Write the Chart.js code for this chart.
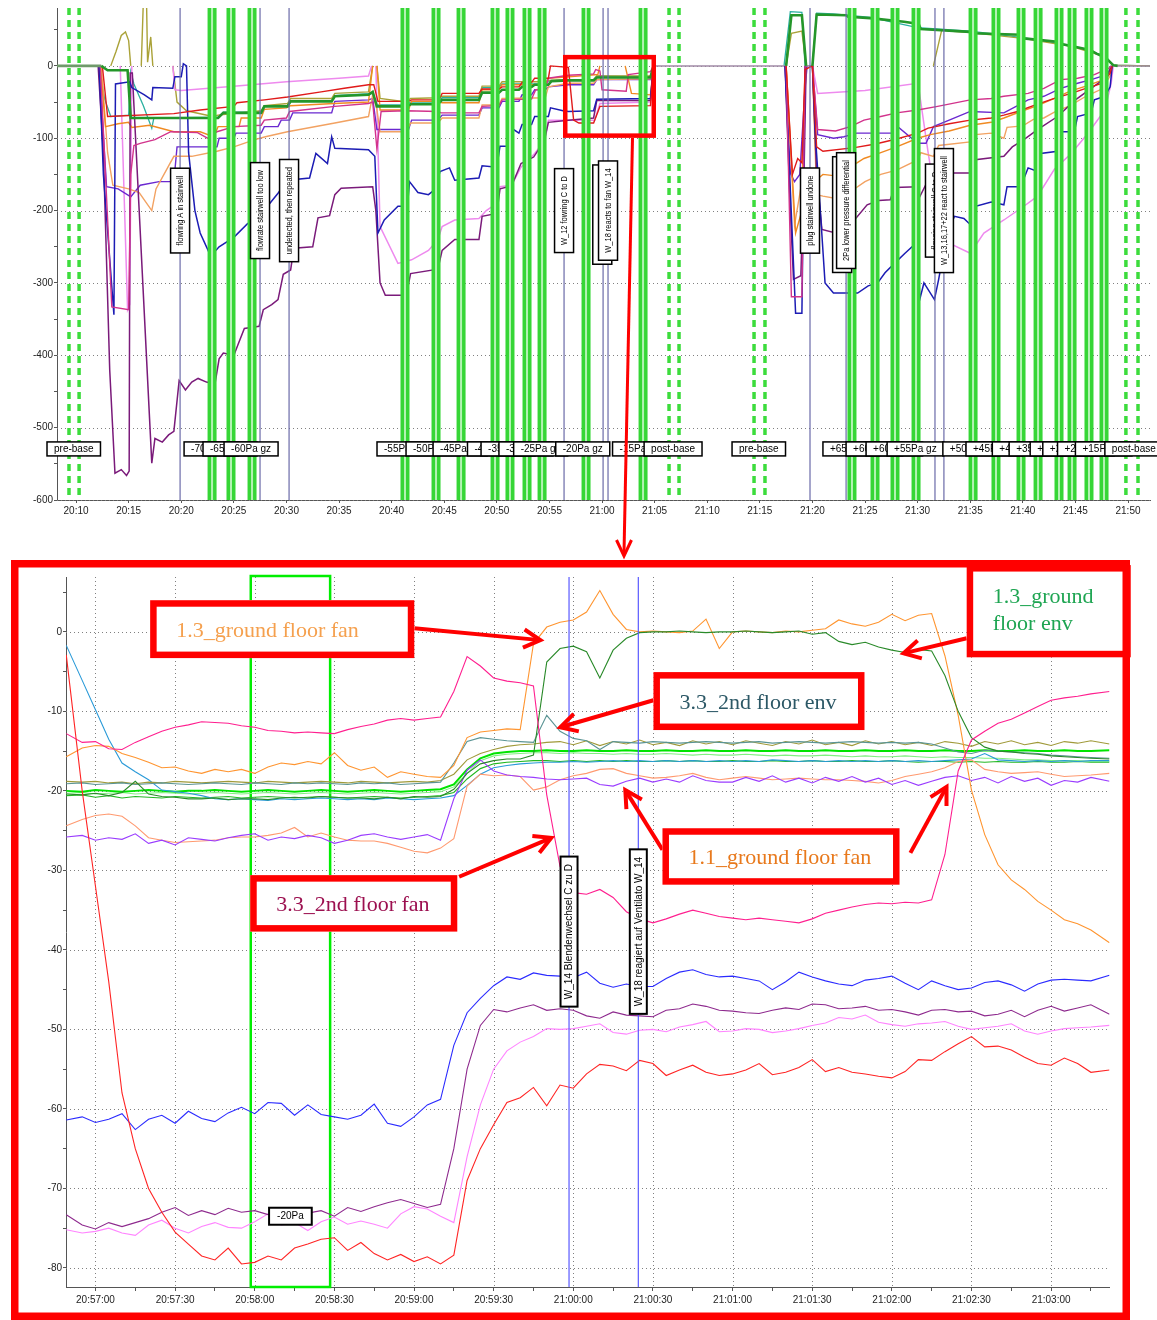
<!DOCTYPE html>
<html>
<head>
<meta charset="utf-8">
<title>Pressure test overview and zoom 20:57-21:03</title>
<script src="https://cdn.jsdelivr.net/npm/chart.js@4.4.1/dist/chart.umd.min.js"></script>
<style>
  body { margin: 0; background: #fff; }
  #wrap { position: relative; width: 1157px; height: 1320px; overflow: hidden; }
  #top { position: absolute; left: 0; top: 0; }
  #zoom { position: absolute; left: 0; top: 560px; }
  #link { position: absolute; left: 0; top: 0; pointer-events: none; }
</style>
</head>
<body>
<div id="wrap">
  <canvas id="top" width="1157" height="530"></canvas>
  <canvas id="zoom" width="1157" height="760"></canvas>
  <svg id="link" width="1157" height="1320">
    <line x1="632.5" y1="138" x2="624" y2="553" stroke="#ff0000" stroke-width="3"/>
    <polyline points="616.5,540 624,556 631.5,540" fill="none" stroke="#ff0000" stroke-width="3"/>
  </svg>
</div>
<script>
// ===== overview chart: x = minutes after 20:00, y = Pa =====
const topBars = [22.93, 24.73, 26.73, 41.27, 44.22, 46.6, 49.83, 51.25, 52.87, 54.3, 58.48, 63.9,
  83.76, 85.95, 87.85, 89.85, 95.27, 97.45, 99.83, 101.45, 103.44, 104.68, 106.29, 107.72];
const topBase = [9.33, 10.29, 66.37, 67.32, 74.45, 75.49, 109.8, 110.95];
const topEvents = [19.89, 27.49, 30.25, 56.39, 60.1, 60.57, 79.77, 83.2, 91.65, 92.5];
const topNoteT = [19.89, 27.49, 30.25, 56.39, 60.1, 60.57, 79.77, 82.9, 83.2, 91.65, 92.5];
const topNoteText = ['flowring A in stairwell', 'flowrate stairwell too low', 'undetected, then repeated',
  'W_12 fowring C to D', 'W_18 reacts to fan W_14', 'W_18 reacts to fan W_14', 'plug stairwell undone',
  '2Pa lower pressure differential', '2Pa lower pressure differential', 'flowring stairwell C to D',
  'W_13,16,17+22 react to stairwell'];
const topStepT = [7.24, 20.27, 22.07, 24.07, 38.61, 41.37, 43.94, 47.21, 48.5, 50.2, 51.6, 55.6, 61.0, 64.0,
  72.36, 81.0, 83.2, 85.1, 87.1, 92.4, 94.6, 97.1, 98.7, 100.7, 101.9, 103.3, 105.0, 107.8];
const topStepText = ['pre-base', '-70Pa gz', '-65Pa gz', '-60Pa gz', '-55Pa gz', '-50Pa gz', '-45Pa gz', '-40Pa gz',
  '-35Pa gz', '-30Pa gz', '-25Pa gz', '-20Pa gz', '-15Pa gz', 'post-base', 'pre-base', '+65Pa gz', '+60Pa gz',
  '+60Pa gz', '+55Pa gz', '+50Pa gz', '+45Pa gz', '+40Pa gz', '+35Pa gz', '+30Pa gz', '+25Pa gz', '+20Pa gz',
  '+15Pa gz', 'post-base'];

const tGreen = [[8.2,0],[12.4,0],[13,-6],[14.9,-6],[15.2,-72],[23.5,-72],[24,-65],[27.6,-65],[27.9,-56],[30.1,-56],[30.4,-49],
  [34.3,-49],[34.6,-42],[37.8,-40],[38.2,-36],[38.6,-56],[41.4,-56],[41.8,-53],[44.4,-53],[44.8,-47],[48.3,-47],[48.6,-37],
  [50.2,-37],[50.5,-33],[52.1,-33],[52.4,-29],[53.3,-29],[53.6,-26],[54.9,-26],[55.2,-21],[56.8,-20],[59.2,-20],[59.5,-16],
  [64.6,-16],[64.9,0],[77.5,0],[78,70],[79,70],
  [79.4,0],[80,0],[80.4,71],[83.2,70],[83.4,68],[85.5,66],[88.7,61],[90.1,58],[90.3,51],[95,47],[95.3,45],[99.8,43],[100.1,38],
  [103.5,33],[103.8,30],[106.4,22],[107,17],[107.8,12],[108.6,1],[109,0],[112.1,0]];
const tRed = [[8.2,0],[12.5,0],[13,-70],[19.3,-66],[21.8,-61],[25,-56],[25.3,-51],[27.9,-47],[30.1,-43],[33.3,-36],[35.5,-31],
  [37.8,-26],[38.3,-26],[38.7,-49],[41.6,-49],[41.9,-47],[44.5,-47],[44.8,-38],[48.3,-38],[48.6,-32],[50.2,-32],[50.5,-29],
  [52.1,-29],[52.4,-23],[53.3,-23],[53.6,-17],[54.9,-17],[55.1,0],[56.8,-2],[57.3,-75],[57.8,-79],[59.2,-79],[59.8,-56],
  [64.6,-55],[64.9,0],[77.5,0],[78.1,-150],[78.6,-128],
  [79,-134],[79.3,-5],[80,0],[80.4,-112],[81,-118],[84,-113],[86,-108],[88,-101],[90,-93],[91,-86],[93,-80],[95,-75],[97,-72],
  [98.2,-68],[99.5,-63],[101,-55],[103,-45],[104.6,-38],[106.2,-30],[107.6,-24],[108.3,-10],[108.5,0],[112.1,0]];
const tMagenta = [[8.2,0],[12.3,0],[13.4,-333],[15,-337],[15.2,-150],[15.5,-110],[16.1,-107],[17.5,-102],[19,-91],[21.5,-92],
  [22.5,-100],[23.4,-91],[25,-84],[27.6,-82],[27.9,-75],[30,-72],[30.3,-63],[34.6,-56],[37.8,-52],[38.2,-50],[38.6,-115],
  [39,-63],[41.4,-62],[44.4,-63],[44.7,-65],[48.3,-65],[48.6,-56],[50.2,-55],[50.5,-47],[53.3,-46],[53.7,-33],[54.6,-32],
  [54.9,-17],[56.8,-13],[59.2,-11],[59.4,-5],[59.8,-7],[60,-33],[62.3,-35],[62.5,-12],[64.6,-8],[64.9,0],[77.5,0],[78,-319],
  [79,-319],[79.3,0],[80,0],[80.5,-88],[82.2,-90],[83.6,-84],[84.9,-75],[86.5,-70],[88,-65],[90,-61],[91.9,-56],[95,-47],
  [97,-45],[98.2,-42],[100.5,-38],[102,-31],[103.6,-19],[105.2,-17],[106.8,-12],[108.2,-3],[108.4,0],[112.1,0]];
const tBlue = [[8.2,0],[12.2,0],[12.6,-150],[13.6,-344],[13.75,-25],[15.1,-22],[15.3,-30],[16.5,-40],[17.2,-47],[17.3,-30],
  [19.2,-31],[19.4,-15],[20,-15],[20.2,3],[20.5,0],[20.7,-120],[21.3,-200],[21.8,-231],[22.8,-263],[23.6,-250],[25,-237],
  [26.3,-218],[27.2,-212],[28.2,-194],[29.2,-176],[30.1,-158],[32.2,-155],[32.8,-121],[33.9,-135],[34.3,-98],[34.6,-114],
  [37.8,-116],[38.4,-125],[38.7,-231],[39.3,-213],[40.6,-194],[41.5,-194],[41.7,-160],[42.5,-175],[43.5,-178],[44.1,-171],
  [44.6,-146],[45.5,-141],[46,-158],[48.3,-155],[48.6,-138],[50,-140],[50.3,-111],[51.3,-111],[51.6,-88],[52.1,-93],[52.4,-81],
  [53.3,-81],[53.6,-70],[54.9,-70],[55.1,-58],[56.3,-62],[56.8,-63],[59.2,-62],[59.5,-46],[64.6,-45],[64.9,0],
  [77.4,0],[78.4,-342],[79,-342],[79.3,0],[80,0],[80.3,-100],[81.2,-300],[82,-314],[84.3,-314],[85.3,-304],[86.2,-300],
  [86.9,-286],[87.8,-273],[88.8,-259],[90,-243],[90.2,-323],[90.6,-300],[91.6,-323],[92,-295],[92.8,-231],[93.5,-208],
  [94.4,-211],[95.2,-222],[95.5,-194],[97,-188],[98.2,-192],[98.5,-167],[99.8,-167],[100.5,-141],[101.4,-146],[101.7,-121],
  [103.3,-118],[103.6,-91],[104.9,-91],[105.2,-70],[106.5,-65],[106.8,-47],[107.8,-42],[108.3,-29],[108.5,0],[112.1,0]];
const tPurple = [[8.2,0],[12.1,0],[12.6,-120],[13.2,-420],[13.7,-563],[14.3,-558],[14.8,-566],[15.05,-560],[15.15,-10],
  [15.35,-10],[17.2,-549],[17.5,-515],[18.2,-520],[18.8,-510],[19.3,-505],[19.8,-435],[20.4,-448],[21,-437],[21.6,-432],
  [22.4,-437],[23.2,-440],[23.6,-405],[24,-397],[25,-400],[25.4,-385],[26,-363],[27.4,-360],[27.8,-337],[28.6,-330],
  [29.2,-323],[29.7,-288],[30.4,-282],[30.7,-252],[32.5,-250],[33,-210],[34.1,-207],[34.6,-178],[35.2,-169],[38.2,-167],
  [38.5,-200],[38.9,-300],[39.4,-317],[41.4,-317],[41.8,-287],[44.4,-281],[44.8,-255],[46,-240],[48.3,-240],[48.6,-208],
  [50,-204],[50.3,-170],[51.4,-166],[52.3,-135],[53.5,-126],[54.5,-104],[54.9,-78],[56.8,-75],[59.2,-72],[59.5,-48],
  [64.6,-48],[64.9,0],[77.4,0],[77.9,-200],[78.2,-295],[78.9,-290],[79.2,-150],[79.4,0],[80,0],[80.4,-150],[80.9,-226],
  [82.2,-231],[83,-220],[84,-213],[85.2,-192],[86.3,-186],[87.4,-185],[87.8,-168],[90,-167],[90.2,-181],[91.2,-152],
  [93.5,-148],[95,-148],[95.3,-130],[98.2,-125],[99,-112],[100.1,-102],[101.4,-88],[103.3,-70],[105,-47],[106.5,-31],
  [108,-15],[108.4,0],[112.1,0]];
const tOrange = [[8.2,0],[12.3,0],[12.8,-84],[14,-80],[15,-78],[15.3,-85],[17,-82],[19.3,-91],[21.8,-91],[23.1,-98],[23.5,-84],
  [25.5,-84],[25.7,-72],[27.6,-72],[27.9,-60],[30,-58],[30.4,-55],[34.5,-52],[37.8,-50],[38.2,0],[38.6,0],[38.9,-61],[41.6,-61],
  [41.9,-49],[44.4,-49],[44.8,-51],[48.3,-51],[48.6,-33],[50.2,-33],[50.5,-26],[54.6,-26],[54.9,-17],[56.8,-15],[59.6,-12],
  [59.8,0],[62.2,0],[62.8,-38],[64.6,-40],[64.9,0],[77.5,0],[78.4,-231],[79,-200],[79.3,0],[80,0],[80.4,-150],[80.6,-155],
  [81,-150],[82.2,-152],[83.6,-140],[84.9,-128],[86.5,-120],[88,-112],[90,-100],[91.2,-95],[93,-90],[95,-82],[96,-80],
  [97,-78],[98.2,-72],[100,-62],[101.4,-55],[103,-45],[104.5,-35],[106,-28],[107.5,-20],[108.3,-8],[108.5,0],[112.1,0]];
const tSalmon = [[8.2,0],[12.4,0],[13,-120],[13.5,-165],[15,-170],[16,-175],[17.2,-200],[17.6,-170],[19.3,-125],[21,-125],
  [23.4,-118],[25,-112],[27,-102],[28,-98],[30.1,-91],[34.6,-79],[37.8,-70],[38.2,-40],[38.6,-60],[38.9,-91],[41.4,-91],
  [41.8,-79],[44.4,-79],[44.8,-72],[48.3,-72],[48.6,-54],[50.2,-54],[50.5,-45],[54.6,-44],[54.9,-29],[56.8,-24],[59.2,-24],
  [59.5,-19],[64.6,-18],[64.9,0],[77.5,0],[78.3,-220],[79,-160],[79.4,0],[80,0],[80.4,-178],[81,-180],[82.5,-184],
  [83.5,-175],[85,-160],[86.5,-150],[88,-144],[90,-130],[90.3,-120],[91.5,-125],[92,-110],[95,-105],[95.5,-95],[97,-93],
  [98.2,-100],[98.5,-85],[100,-83],[101,-74],[102,-72],[103,-64],[104.5,-55],[106,-42],[107.5,-32],[108.3,-14],[108.5,0],[112.1,0]];
const tViolet = [[8.2,0],[12.2,0],[12.9,-167],[14,-170],[15.2,-181],[16.1,-165],[17.9,-160],[19.3,-160],[19.6,-112],[23.4,-112],
  [23.6,-100],[25,-100],[25.2,-93],[27.6,-93],[27.9,-84],[29.2,-84],[29.5,-75],[30.3,-75],[30.6,-65],[34.3,-65],[34.6,-49],
  [37.8,-47],[38.2,-45],[38.6,-88],[41.6,-88],[41.9,-75],[44.4,-75],[44.8,-68],[48.3,-68],[48.6,-58],[50.2,-58],[50.5,-49],
  [52.1,-49],[52.4,-40],[53.3,-40],[53.6,-33],[54.6,-33],[54.9,-29],[56.8,-26],[59.2,-26],[59.5,-19],[64.6,-19],[64.9,0],[77.4,0],[77.9,-148],
  [78.3,-160],[78.8,-150],[79.3,-30],[79.5,0],[80,0],[80.5,-95],[82,-100],[83,-98],[84.2,-93],[88,-93],[88.2,-85],[90,-107],
  [90.8,-107],[91.5,-84],[93,-75],[95,-63],[98.2,-65],[99.5,-55],[100.5,-47],[102,-42],[103.6,-31],[105.2,-24],[106.5,-19],
  [108,-12],[108.5,0],[112.1,0]];
const tPink = [[8.2,0],[14.2,0],[14.9,-337],[15.1,-330],[15.3,0],[19.2,0],[19.4,-33],[20,-34],[25,-28],[30,-22],[35,-17],
  [37.8,-14],[38.1,0],[38.5,0],[38.9,-222],[40.6,-273],[41.9,-268],[43.5,-255],[44.4,-240],[44.8,-222],[46,-213],[48.3,-211],
  [49,-200],[50,-190],[50.3,-167],[51.4,-165],[52.3,-140],[53.6,-121],[54.6,-102],[54.9,-75],[56.8,-75],[59.3,-75],[59.8,-52],
  [64.6,-50],[64.9,0],[80,0],[80.5,-38],[85,-34],[90,-24],[90.1,-30],[91,-120],[92.2,-230],[93,-245],[95,-259],[96.3,-231],
  [98.2,-213],[100.1,-194],[101.4,-180],[103,-143],[104.6,-121],[106.2,-93],[107.8,-61],[108.4,-24],[108.6,0],[112.1,0]];
const tOlive = [[8.2,0],[13.3,0],[13.8,20],[14.3,42],[14.7,47],[15,35],[15.2,0],[16.2,0],[16.4,90],[16.7,90],[16.8,5],
  [17.1,40],[17.3,0],[19.2,0],[19.6,-50],[20.5,-62],[23,-70],[23.5,-68],[27.6,-62],[27.9,-55],[30.1,-52],[30.4,-45],
  [34.3,-45],[34.6,-38],[37.8,-36],[38.2,0],[38.6,0],[38.9,-45],[41.4,-50],[41.8,-45],[44.4,-44],[44.8,-42],[48.3,-42],
  [48.6,-28],[50.2,-28],[50.5,-22],[54.6,-22],[54.9,-20],[56.8,-19],[59.2,-19],[59.5,-14],[64.6,-14],[64.9,0],[77.5,0],
  [78,45],[79,48],[79.4,0],[91.5,0],[92.3,50],[93,48],[95,46],[100,38],[104.6,27],[107.8,13],[108.6,1],[112.1,0]];
const tTeal = [[8.2,0],[12.2,0],[12.7,-45],[13.3,-70],[15,-68],[15.2,-8],[15.5,-25],[16.4,-55],[17.2,-86],[17.4,-72],
  [23.5,-71],[24,-64],[27.6,-64],[27.9,-55],[30.1,-55],[30.4,-48],[34.3,-48],[34.6,-41],[38.2,-38],[38.6,-54],[41.4,-54],
  [41.8,-50],[44.4,-50],[44.8,-44],[48.3,-44],[48.6,-30],[50.2,-30],[50.5,-25],[54.6,-25],[54.9,-21],[56.8,-19],[59.2,-19],
  [59.5,-14],[64.6,-15],[64.9,0],[77.3,0],[77.9,75],[79,74],[79.3,0],[80,0],[80.4,73],[82,72],[85.5,67],[90,53],[95,48],
  [100,39],[104.6,28],[107.8,14],[108.6,1],[112.1,0]];

// ===== zoom chart: x = seconds after 20:57:00, y = Pa =====
const zoomT = [-11,-5,0,5,10,15,20,25,30,35,40,45,50,55,60,65,70,75,80,85,90,95,100,105,110,115,120,125,130,135,
  140,145,150,155,160,165,170,175,180,185,190,195,200,205,210,215,220,225,230,235,240,245,250,255,260,265,270,275,
  280,285,290,295,300,305,310,315,320,325,330,335,340,345,350,355,360,365,370,375,382];
const zoomEvents = [178.4, 204.5];
const zoomNoteText = ['W_14 Blendenwechsel C zu D', 'W_18 reagiert auf Ventilato W_14'];
const zoomBand = [58.5, 88.4];
const zoomStepT = [65.4];
const zoomStepText = ['-20Pa'];

const bRed = [-2.9,-20,-32,-44,-58,-65,-70,-73,-75.5,-77,
  -78.5,-79,-77.5,-79.5,-79.3,-78.5,-79,-77.5,-77,-76.4,
  -76.2,-77.8,-76.8,-78.2,-79,-78.3,-79.2,-78.6,-79.5,-78.4,
  -69,-65,-62,-59.2,-58.6,-57.3,-59.6,-57,-57.4,-55.6,
  -54.4,-54.6,-55.2,-53.9,-54.3,-55.8,-55.1,-54.5,-55.4,-55.8,
  -55.6,-55.1,-54.3,-55.7,-55.4,-54.8,-53.8,-55.3,-54.8,-55.4,
  -55.6,-55.9,-56.1,-55.3,-53.8,-53.9,-52.8,-51.8,-50.9,-52.2,
  -52.1,-52.6,-53.5,-54.3,-54.5,-53.6,-54.3,-55.4,-55.1];
const bBlue = [-61.4,-61,-61.7,-61.3,-60.6,-62.6,-61.3,-60.8,-61.8,-60.3,
  -61.2,-61.6,-60.5,-59.8,-60.6,-59.2,-59.3,-60.8,-59.5,-60.7,
  -61,-61.3,-60.8,-59.4,-61.8,-62.2,-61,-59.5,-58.8,-52,
  -47.9,-46.1,-44.5,-43.4,-43.7,-42.9,-43.2,-43.3,-43.5,-42.8,
  -44.2,-44.7,-44.3,-44.6,-44.6,-43.6,-42.8,-42.5,-43.1,-43.4,
  -43.3,-43.6,-43.9,-45,-44,-42.8,-43.4,-43.9,-44.3,-44.5,
  -43.8,-43.6,-43.3,-44.2,-45,-43.9,-44.5,-45,-44.8,-44.1,
  -43.9,-44.4,-45.2,-44.3,-43.8,-43.7,-43.8,-43.9,-43.2];
const bPurple = [-73.3,-74.6,-75.1,-74.3,-74.8,-74.3,-73.8,-73,-72.4,-73.4,
  -72.8,-73.3,-72.5,-73,-72.8,-73.3,-72.7,-72.5,-73.1,-72.8,
  -73.5,-72.4,-72.9,-72.3,-71.8,-71.4,-71.9,-72.4,-72,-65,
  -55,-49.5,-47.5,-47.8,-47.3,-46.9,-47.6,-47.4,-47.6,-48.3,
  -48.6,-47.8,-48.2,-48.3,-48.4,-47.6,-47.4,-46.8,-47.1,-47.6,
  -47.7,-47.9,-48,-47.6,-47.3,-47.5,-46.8,-46.9,-47.4,-47.3,
  -47.1,-47.6,-47.5,-47.8,-48.2,-47.6,-47.5,-47.8,-47.7,-48.3,
  -48.1,-47.6,-48.4,-47.6,-47.1,-47.7,-47.3,-46.9,-48.1];
const bPink = [-75.2,-75.6,-75.4,-75,-75.6,-75.9,-74.6,-74,-75,-75.6,
  -74.8,-74.3,-74.9,-75,-74.2,-73.2,-74.6,-74.3,-75.3,-74.2,
  -73.6,-74.5,-74.1,-74.5,-75,-73.2,-72.3,-72.6,-73.5,-74.3,
  -66,-59.5,-55,-52.7,-51.6,-50.9,-49.9,-50,-49.9,-49.6,
  -49.3,-50.4,-50.6,-50.1,-50,-50.3,-49.7,-49.4,-49,-50.3,
  -50.2,-49.9,-50,-50.4,-50.2,-49.9,-49.5,-49.2,-48.5,-48.7,
  -48.2,-49.1,-49.4,-49.6,-49.3,-49.2,-49,-49.6,-50,-49.8,
  -49.6,-49.3,-50.2,-50.6,-50.2,-49.9,-49.8,-49.7,-49.5];
const bMagenta = [-12.8,-13.9,-13.8,-14.7,-14.8,-13.9,-13.2,-12.5,-12,-11.7,
  -11.3,-11.4,-11.5,-11.8,-12,-12.4,-12.5,-12.7,-12.6,-12.7,
  -12.8,-12.3,-11.9,-11.6,-11.1,-10.9,-11.1,-10.9,-10.7,-7.5,
  -3.1,-4.3,-5.8,-6.2,-6.4,-6.8,-20.5,-29.5,-32.8,-33,
  -32.4,-33.4,-35.2,-36.1,-36.6,-36.1,-35.5,-35,-35.4,-35.8,
  -36,-36.2,-36,-36.2,-36.4,-36.6,-36.1,-35.4,-35,-34.6,
  -34.3,-34.1,-34.2,-34,-34.1,-33.7,-28,-17.5,-13.6,-12.5,
  -11.5,-11,-10.2,-9.4,-8.6,-8.3,-8.1,-7.8,-7.5];
const bOrange = [-15.7,-14.6,-14.3,-14.4,-15.3,-15.8,-16.4,-17.1,-17,-17.5,
  -17.8,-17.3,-17.6,-17.3,-17.8,-17,-16.5,-16.7,-16.3,-16.6,
  -15.2,-16.8,-17.4,-17,-18.3,-17.6,-17.9,-18.2,-18.3,-16.8,
  -13.3,-12.6,-12.4,-12.2,-12.3,-1.5,0.6,1.2,1.5,2.5,
  5.2,2.2,0.3,0,0.1,0,-0.1,0.1,1.6,-2.1,
  0,0.1,0,-0.1,0.1,0,0.2,0.4,1.5,1,
  0.7,1.2,2.2,1.4,2.1,2.3,-3,-10.5,-19.9,-25.5,
  -29.3,-31.2,-32.4,-33.9,-35,-36.2,-36.7,-37.5,-39.1];
const bDkGreen = [-20.4,-20.5,-20.3,-20.6,-20.2,-18.8,-20.4,-20.7,-20.8,-21,
  -21,-20.9,-21.1,-21,-21,-21.1,-20.9,-20.8,-20.9,-20.7,
  -20.8,-20.9,-20.9,-21,-20.8,-21,-20.7,-20.8,-20.7,-19.8,
  -17.8,-16.6,-16.2,-16,-16,-15.5,-3.8,-2.1,-1.8,-2.5,
  -5.8,-2.3,-0.8,-0.1,0,0,0.1,0,-0.1,0,
  0,0.1,0,-0.1,0,0.1,-0.3,-0.1,-1.2,-1.6,
  -1.3,-1.9,-2.3,-2.6,-2.2,-2.4,-5.5,-10,-13.3,-14.5,
  -15,-15.1,-15.3,-15.4,-15.6,-15.7,-15.8,-15.9,-16];
const bViolet = [-25.8,-25.6,-26.2,-25.9,-26.1,-25.4,-26.6,-26.2,-26.8,-25.9,
  -26.1,-26.3,-25.9,-25.6,-25.4,-26.2,-25.8,-26,-25.6,-25.9,
  -26.6,-26.2,-25.6,-25.4,-25.8,-26.1,-25.8,-25.5,-26.2,-21,
  -17.4,-16.1,-17.5,-18,-18.2,-18.3,-18.5,-18.6,-18.5,-18.4,
  -19.2,-19.4,-18.8,-18.4,-18.9,-18.5,-18.9,-18.1,-18.7,-18.9,
  -18.9,-18.3,-18.8,-18.1,-18.9,-18.4,-19,-18.3,-18.8,-18.2,
  -18.9,-18.4,-19.2,-18.7,-19.3,-18.8,-18.3,-18.1,-18.7,-18.3,
  -19,-18.2,-18.8,-18.4,-19.3,-18.7,-18.9,-18.3,-18.8];
const bSalmon = [-24.4,-23.6,-23.1,-22.9,-23.2,-24.4,-25.9,-26.2,-26.5,-26.4,
  -26.3,-26.2,-25.9,-25.8,-25.8,-25.6,-25.3,-24.6,-25.8,-25.3,
  -25.8,-26.2,-26.3,-26.3,-26.6,-27.1,-27.6,-27.8,-27.2,-26,
  -19.4,-17.9,-18.1,-18,-18.2,-19.9,-19.5,-18.6,-18.1,-17.8,
  -17.3,-17.2,-17.8,-18.1,-18.4,-18.3,-18.1,-17.8,-18.3,-18.6,
  -18.4,-18.2,-18.4,-18.6,-18.5,-18.4,-18.5,-18.6,-18.6,-18.7,
  -18.8,-19,-18.7,-18.2,-17.9,-17.6,-17.1,-16.3,-16.1,-17.3,
  -17.6,-17.8,-17.7,-17.6,-17.9,-18.2,-18.1,-18,-17.8];
const bTeal = [-19.1,-19,-19.2,-19.1,-19,-19.2,-19.1,-19,-19.1,-19.2,
  -19.1,-19,-19.1,-19.2,-19,-19.1,-19.2,-19,-19.1,-19,
  -19.1,-19.2,-19,-19.1,-19,-19.2,-19.1,-19,-18.9,-16.5,
  -13.8,-13.3,-13.5,-13.7,-13.8,-13.9,-10.5,-12.5,-13.4,-13.7,
  -14.8,-13.8,-13.9,-14,-13.8,-13.9,-14,-13.9,-13.8,-13.9,
  -14,-13.9,-13.8,-14,-13.9,-13.8,-13.9,-14,-13.9,-13.8,
  -13.9,-14,-13.9,-14,-13.9,-14.1,-14.6,-15.1,-15.3,-14.9,
  -15,-15.1,-15.2,-15.3,-15.5,-15.6,-15.7,-15.8,-15.9];
const bOlive = [-18.8,-18.9,-18.8,-19,-18.9,-19.1,-18.9,-19,-18.8,-18.9,
  -19,-18.9,-18.8,-18.9,-19,-18.8,-18.9,-19,-18.9,-18.8,
  -18.9,-19,-18.8,-18.9,-19,-18.9,-18.8,-18.9,-18.7,-17.9,
  -16.1,-15.3,-14.8,-14.4,-14.2,-14.1,-13.9,-13.8,-14.2,-13.7,
  -14.3,-13.8,-14.1,-13.6,-14.2,-13.9,-14.3,-13.7,-14.1,-13.8,
  -14.2,-13.7,-14,-14.3,-13.8,-14.1,-13.6,-14.2,-13.9,-14.3,
  -13.7,-14.1,-13.8,-14.2,-13.9,-14.3,-13.8,-14,-14.4,-13.8,
  -14.1,-13.7,-14.2,-13.9,-14.3,-13.8,-14,-13.7,-14.1];
const bSky = [-1.7,-6.1,-9.8,-13.5,-16.5,-17.6,-18.6,-19.9,-20.1,-20.3,
  -20.6,-21,-21.1,-21,-21.1,-21.2,-21,-21.1,-21,-20.9,
  -21,-21.1,-21,-21.1,-20.9,-21,-21.1,-21,-20.9,-20.6,
  -19.3,-17.9,-17.1,-16.8,-16.6,-16.5,-16.4,-16.4,-16.3,-16.4,
  -16.3,-16.2,-16.3,-16.2,-16.3,-16.2,-16.3,-16.2,-16.3,-16.2,
  -16.3,-16.2,-16.3,-16.1,-16.2,-16.3,-16.2,-16.3,-16.2,-16.3,
  -16.2,-16.3,-16.2,-16.3,-16.2,-16.3,-16.2,-16.1,-16,-15.3,
  -16.1,-16.2,-16.3,-16.2,-16.3,-16.2,-16.3,-16.2,-16.2];
const bLime = [-20,-20.1,-19.9,-20,-20.1,-20,-19.9,-20,-20.1,-20,
  -20,-19.9,-20,-20.1,-20,-19.9,-20,-20.1,-20,-19.9,
  -20,-20.1,-20,-19.9,-20,-20.1,-20,-19.9,-19.8,-19.2,
  -17.3,-15.9,-15.3,-15.1,-15,-15,-14.9,-15,-15,-14.9,
  -15,-15,-14.9,-15,-15,-14.9,-15,-15,-14.9,-15,
  -15,-14.9,-15,-15,-14.9,-15,-15,-14.9,-15,-15,
  -14.9,-15,-15,-14.9,-15,-15,-14.9,-15,-15,-14.9,
  -15,-15,-14.9,-15,-15,-14.9,-15,-15,-14.9];
const bLtGreen = [-20.3,-20.2,-20.4,-20.3,-20.2,-20.4,-20.3,-20.2,-20.3,-20.4,
  -20.3,-20.2,-20.3,-20.4,-20.3,-20.2,-20.3,-20.4,-20.3,-20.2,
  -20.3,-20.4,-20.3,-20.2,-20.3,-20.4,-20.3,-20.2,-20.1,-19.5,
  -17.8,-16.2,-15.6,-15.4,-15.3,-15.2,-15.2,-15.3,-15.2,-15.3,
  -15.3,-15.4,-15.3,-15.4,-15.4,-15.3,-15.4,-15.5,-15.4,-15.5,
  -15.5,-15.4,-15.5,-15.6,-15.5,-15.6,-15.6,-15.5,-15.6,-15.7,
  -15.6,-15.7,-15.7,-15.6,-15.7,-15.8,-15.7,-15.8,-15.8,-15.9,
  -15.9,-16,-16.1,-16.1,-16.2,-16.2,-16.2,-16.3,-16.3];
const bMedGreen = [-20.6,-20.5,-20.8,-20.6,-20.9,-20.7,-20.8,-20.9,-20.7,-20.8,
  -20.9,-20.8,-20.7,-20.9,-20.8,-20.7,-20.8,-20.9,-20.8,-20.7,
  -20.8,-20.9,-20.8,-20.7,-20.8,-20.9,-20.8,-20.7,-20.6,-20.2,
  -18.5,-17.2,-16.6,-16.4,-16.3,-16.2,-16.2,-16.3,-16.2,-16.3,
  -16.2,-16.3,-16.2,-16.3,-16.3,-16.2,-16.3,-16.2,-16.3,-16.3,
  -16.2,-16.3,-16.3,-16.2,-16.3,-16.3,-16.2,-16.3,-16.3,-16.2,
  -16.3,-16.3,-16.2,-16.3,-16.4,-16.3,-16.3,-16.4,-16.3,-16.4,
  -16.3,-16.4,-16.4,-16.3,-16.4,-16.4,-16.3,-16.4,-16.4];

// ===== helpers =====
const SANS = "'Liberation Sans', Arial, sans-serif";
const SERIF = "'Liberation Serif', 'Times New Roman', serif";

function seg(ctx, x0, y0, x1, y1) {
  ctx.beginPath(); ctx.moveTo(x0, y0); ctx.lineTo(x1, y1); ctx.stroke();
}

function dotGrid(chart, yStep, xStep) {
  const {ctx, chartArea: a, scales: {x, y}} = chart;
  ctx.save();
  ctx.strokeStyle = '#808080'; ctx.lineWidth = 1; ctx.setLineDash([1, 3]);
  y.ticks.forEach(t => {
    if (Math.abs(t.value % yStep) > 1e-6) return;
    const py = Math.round(y.getPixelForValue(t.value)) + 0.5;
    seg(ctx, a.left, py, a.right, py);
  });
  if (xStep) x.ticks.forEach(t => {
    if (Math.abs(t.value % xStep) > 1e-6) return;
    const px = Math.round(x.getPixelForValue(t.value)) + 0.5;
    seg(ctx, px, a.top, px, a.bottom);
  });
  ctx.restore();
}

// rotated note, reads bottom to top
function vNote(ctx, cx, cy, text, size, squeeze, boxW, lw) {
  ctx.save();
  ctx.font = size + 'px ' + SANS;
  const h = ctx.measureText(text).width * squeeze + 15;
  ctx.translate(cx, cy);
  ctx.rotate(-Math.PI / 2);
  ctx.fillStyle = '#fff';
  ctx.fillRect(-h / 2, -boxW / 2, h, boxW);
  ctx.lineWidth = lw; ctx.strokeStyle = '#000';
  ctx.strokeRect(-h / 2, -boxW / 2, h, boxW);
  ctx.fillStyle = '#000'; ctx.textAlign = 'center'; ctx.textBaseline = 'middle';
  ctx.scale(squeeze, 1);
  ctx.fillText(text, 0, 0.5);
  ctx.restore();
}

function hBox(ctx, left, cy, text, size, h, lw, pad) {
  ctx.save();
  ctx.font = size + 'px ' + SANS;
  const w = ctx.measureText(text).width + pad * 2;
  ctx.fillStyle = '#fff';
  ctx.fillRect(left, cy - h / 2, w, h);
  ctx.lineWidth = lw; ctx.strokeStyle = '#000';
  ctx.strokeRect(left, cy - h / 2, w, h);
  ctx.fillStyle = '#000'; ctx.textBaseline = 'middle';
  ctx.fillText(text, left + pad, cy + 0.5);
  ctx.restore();
}

function arrow(ctx, x0, y0, x1, y1) {
  const ang = Math.atan2(y1 - y0, x1 - x0), L = 19, sp = 0.5;
  ctx.save();
  ctx.strokeStyle = '#ff0000'; ctx.lineWidth = 4; ctx.lineJoin = 'miter';
  seg(ctx, x0, y0, x1, y1);
  ctx.beginPath();
  ctx.moveTo(x1 - L * Math.cos(ang - sp), y1 - L * Math.sin(ang - sp));
  ctx.lineTo(x1, y1);
  ctx.lineTo(x1 - L * Math.cos(ang + sp), y1 - L * Math.sin(ang + sp));
  ctx.stroke();
  ctx.restore();
}

const pairs = arr => arr.map(p => ({x: p[0], y: p[1]}));
const onZoomGrid = vals => vals.map((v, i) => ({x: zoomT[i], y: v}));
const line = (data, color, w) => ({data, borderColor: color, borderWidth: w, pointRadius: 0, tension: 0, fill: false});

// in the overview all channels sit on 0 between runs; only one greyish trace should show there
const flatZero = c => c.p0.parsed.y === 0 && c.p1.parsed.y === 0;
const hideZero = (ds, keep) => {
  ds.segment = {borderColor: c => (flatZero(c) ? keep(c) : undefined)};
  return ds;
};
const clear = () => 'rgba(0,0,0,0)';

function axisStyle(step, cb, tickLen, pad) {
  return {
    type: 'linear',
    grid: {drawOnChartArea: false, drawTicks: true, tickLength: tickLen, tickColor: '#555'},
    border: {display: true, color: '#555', width: 1},
    ticks: {stepSize: step, autoSkip: false, maxRotation: 0, includeBounds: false, padding: pad,
      color: '#222', font: {family: SANS, size: 10}, callback: cb}
  };
}

// ===== overview chart =====
const topDeco = {
  id: 'topDeco',
  beforeDatasetsDraw(chart) { dotGrid(chart, 100, 0); },
  afterDatasetsDraw(chart) {
    const {ctx, chartArea: a, scales: {x, y}} = chart;
    ctx.save();
    ctx.beginPath(); ctx.rect(a.left, a.top, a.right - a.left, a.bottom - a.top); ctx.clip();
    ctx.strokeStyle = '#6a6aa8'; ctx.lineWidth = 1.2;
    topEvents.forEach(t => { const px = x.getPixelForValue(t); seg(ctx, px, a.top, px, a.bottom); });
    ctx.strokeStyle = '#3cdc3c'; ctx.lineWidth = 3.5; ctx.setLineDash([7, 5]);
    topBase.forEach(t => { const px = x.getPixelForValue(t); seg(ctx, px, a.top, px, a.bottom); });
    ctx.setLineDash([]);
    topBars.forEach(t => {
      const px = x.getPixelForValue(t);
      ctx.fillStyle = '#36d636'; ctx.fillRect(px - 4.5, a.top, 9, a.bottom - a.top);
      ctx.fillStyle = '#b4f2b4'; ctx.fillRect(px - 1, a.top, 2, a.bottom - a.top);
    });
    ctx.restore();

    const cy = y.getPixelForValue(-529.4);
    topStepT.forEach((t, i) => hBox(ctx, x.getPixelForValue(t), cy, topStepText[i], 10, 14, 1.5, 7));
    const ny = y.getPixelForValue(-200);
    topNoteT.forEach((t, i) => {
      const shadow = (i === 4 || i === 7) ? 4 : 0;
      vNote(ctx, x.getPixelForValue(t) - shadow * 0.2, ny + shadow, topNoteText[i], 9, 0.83, 19, 1.5);
    });

    // red frame marking the zoomed window
    const x0 = x.getPixelForValue(56.29), x1 = x.getPixelForValue(65.13);
    const y0 = y.getPixelForValue(15.2), y1 = y.getPixelForValue(-99.5);
    ctx.save();
    ctx.strokeStyle = '#ff0000'; ctx.lineWidth = 4.5;
    ctx.strokeRect(x0 + 2.25, y0 + 2.25, x1 - x0 - 4.5, y1 - y0 - 4.5);
    ctx.restore();
  }
};

const topFmt = v => {
  const m = Math.round(v);
  if (m % 5) return '';
  return (20 + Math.floor(m / 60)) + ':' + String(m % 60).padStart(2, '0');
};
const topX = axisStyle(5, topFmt, 3, 2);
topX.min = 8.19; topX.max = 112.09;
topX.afterFit = s => { s.height = 30; };
const topY = axisStyle(50, v => (Math.round(v) % 100 === 0 ? String(Math.round(v)) : ''), 3, 1);
topY.min = -600; topY.max = 80;
topY.afterFit = s => { s.width = 57; };

new Chart(document.getElementById('top'), {
  type: 'line',
  data: {datasets: [
    hideZero(line(pairs(tGreen), '#24962a', 2.6), c => (c.p0.parsed.x < 12 ? '#6f9a6a' : 'rgba(0,0,0,0)')),
    hideZero(line(pairs(tRed), '#e01a1a', 1.4), clear),
    hideZero(line(pairs(tMagenta), '#d2338c', 1.4), clear),
    hideZero(line(pairs(tBlue), '#1c1cb4', 1.5), clear),
    hideZero(line(pairs(tPurple), '#7a1a7a', 1.5), c => (c.p0.parsed.x < 12 ? 'rgba(0,0,0,0)' : '#a08aa6')),
    hideZero(line(pairs(tOrange), '#f08a22', 1.4), clear),
    hideZero(line(pairs(tSalmon), '#f2a262', 1.4), clear),
    hideZero(line(pairs(tViolet), '#6a28d0', 1.4), clear),
    hideZero(line(pairs(tPink), '#ee8aee', 1.5), clear),
    hideZero(line(pairs(tOlive), '#aaa238', 1.4), clear),
    hideZero(line(pairs(tTeal), '#2ab0a0', 1.3), clear)
  ]},
  options: {
    responsive: false, animation: false, devicePixelRatio: 1,
    layout: {padding: {left: 0, right: 7, top: 8, bottom: 0}},
    plugins: {legend: {display: false}, tooltip: {enabled: false}},
    scales: {x: topX, y: topY}
  },
  plugins: [topDeco]
});

// ===== zoom chart =====
const callouts = [
  {text: ['1.3_ground floor fan'], color: '#f5a04e', box: [20.6, 120.1, 3.98, -3.3], arrows: [[120.1, 0.46, 167.6, -1.04]]},
  {text: ['1.3_ground', 'floor env'], color: '#1ea552', box: [328.2, 390, 8.4, -3.2], arrows: [[328.2, -0.8, 304.4, -2.7]]},
  {text: ['3.3_2nd floor env'], color: '#2c5866', box: [210.2, 289.7, -5.06, -12.35], arrows: [[210.2, -8.6, 175.1, -12.0]]},
  {text: ['1.1_ground floor fan'], color: '#e8791c', box: [213.6, 302.9, -24.7, -31.8],
    arrows: [[213.6, -27.4, 199.6, -19.9], [307, -27.8, 320.6, -19.5]]},
  {text: ['3.3_2nd floor fan'], color: '#9c1050', box: [58.3, 136.3, -30.6, -37.7], arrows: [[137, -30.8, 171.7, -25.9]]}
];

const zoomDeco = {
  id: 'zoomDeco',
  beforeDatasetsDraw(chart) {
    const {ctx, chartArea: a, scales: {x}} = chart;
    dotGrid(chart, 10, 30);
    ctx.save();
    ctx.strokeStyle = '#00ee00'; ctx.lineWidth = 2.5;
    const b0 = x.getPixelForValue(zoomBand[0]), b1 = x.getPixelForValue(zoomBand[1]);
    ctx.strokeRect(b0, a.top - 1, b1 - b0, a.bottom - a.top + 1);
    ctx.restore();
  },
  afterDatasetsDraw(chart) {
    const {ctx, chartArea: a, scales: {x, y}} = chart;
    ctx.save();
    ctx.strokeStyle = '#5a5aff'; ctx.lineWidth = 1.2;
    zoomEvents.forEach(t => { const px = x.getPixelForValue(t); seg(ctx, px, a.top, px, a.bottom); });
    ctx.restore();
    const ny = y.getPixelForValue(-37.7);
    zoomEvents.forEach((t, i) => vNote(ctx, x.getPixelForValue(t), ny, zoomNoteText[i], 10, 1, 17, 2));
    zoomStepT.forEach((t, i) => hBox(ctx, x.getPixelForValue(t), y.getPixelForValue(-73.5), zoomStepText[i], 10, 17, 2, 8));
  },
  afterDraw(chart) {
    const {ctx, scales: {x, y}} = chart;
    callouts.forEach(c => c.arrows.forEach(r =>
      arrow(ctx, x.getPixelForValue(r[0]), y.getPixelForValue(r[1]), x.getPixelForValue(r[2]), y.getPixelForValue(r[3]))));
    callouts.forEach(c => {
      const l = x.getPixelForValue(c.box[0]), r = x.getPixelForValue(c.box[1]);
      const t = y.getPixelForValue(c.box[2]), b = y.getPixelForValue(c.box[3]);
      ctx.save();
      ctx.fillStyle = '#fff'; ctx.fillRect(l, t, r - l, b - t);
      ctx.strokeStyle = '#ff0000'; ctx.lineWidth = 6.5;
      ctx.strokeRect(l + 3.25, t + 3.25, r - l - 6.5, b - t - 6.5);
      ctx.fillStyle = c.color; ctx.font = '22px ' + SERIF; ctx.textBaseline = 'alphabetic';
      if (c.text.length === 1) ctx.fillText(c.text[0], l + 26, (t + b) / 2 + 8);
      else c.text.forEach((s, k) => ctx.fillText(s, l + 26, t + 38 + k * 27));
      ctx.restore();
    });
    ctx.save();
    ctx.strokeStyle = '#ff0000'; ctx.lineWidth = 7.5;
    ctx.strokeRect(11 + 3.75, 3.75, 1119 - 7.5, chart.height - 7.5);
    ctx.restore();
  }
};

const zoomFmt = v => {
  const s = Math.round(v);
  if (s % 30) return '';
  const tot = 57 * 60 + s, m = Math.floor(tot / 60);
  return (20 + Math.floor(m / 60)) + ':' + String(m % 60).padStart(2, '0') + ':' + String(tot % 60).padStart(2, '0');
};
const zoomX = axisStyle(15, zoomFmt, 4, 3);
zoomX.min = -11.1; zoomX.max = 382;
zoomX.afterFit = s => { s.height = 33; };
const zoomY = axisStyle(5, v => (Math.round(v) % 10 === 0 ? String(Math.round(v)) : ''), 3, 1);
zoomY.min = -82.4; zoomY.max = 6.9;
zoomY.afterFit = s => { s.width = 66; };

new Chart(document.getElementById('zoom'), {
  type: 'line',
  data: {datasets: [
    line(onZoomGrid(bRed), '#ff2424', 1.1),
    line(onZoomGrid(bBlue), '#2b2bff', 1.1),
    line(onZoomGrid(bPurple), '#8e2a8e', 1.1),
    line(onZoomGrid(bPink), '#ff84ff', 1.1),
    line(onZoomGrid(bMagenta), '#ff1f8f', 1.1),
    line(onZoomGrid(bDkGreen), '#2a8a2a', 1.1),
    line(onZoomGrid(bOrange), '#ff9530', 1.1),
    line(onZoomGrid(bViolet), '#9a3cff', 1.1),
    line(onZoomGrid(bSalmon), '#ff9a70', 1.1),
    line(onZoomGrid(bTeal), '#5a9494', 1.1),
    line(onZoomGrid(bOlive), '#a09a3a', 1.1),
    line(onZoomGrid(bSky), '#2a9ad8', 1.1),
    line(onZoomGrid(bLime), '#00e400', 2),
    line(onZoomGrid(bLtGreen), '#80f080', 1.1),
    line(onZoomGrid(bMedGreen), '#22b822', 1.1)
  ]},
  options: {
    responsive: false, animation: false, devicePixelRatio: 1,
    layout: {padding: {left: 0, right: 47.5, top: 17, bottom: 0}},
    plugins: {legend: {display: false}, tooltip: {enabled: false}},
    scales: {x: zoomX, y: zoomY}
  },
  plugins: [zoomDeco]
});
</script>
</body>
</html>
